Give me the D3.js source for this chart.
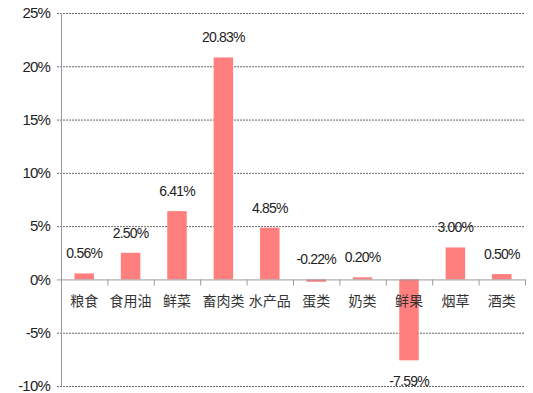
<!DOCTYPE html>
<html>
<head>
<meta charset="utf-8">
<script src="https://cdn.jsdelivr.net/npm/d3@7"></script>
<style>
  body { margin: 0; background: #fff; }
  svg text { fill: #222; }
</style>
</head>
<body>
<svg id="chart" width="533" height="393"></svg>
<script>
var categories = ["粮食", "食用油", "鲜菜", "畜肉类", "水产品", "蛋类", "奶类", "鲜果", "烟草", "酒类"];
var values = [0.56, 2.50, 6.41, 20.83, 4.85, -0.22, 0.20, -7.59, 3.00, 0.50];
var yTicks = [-10, -5, 0, 5, 10, 15, 20, 25];

var svg = d3.select("#chart");
var plotLeft = 61, plotRight = 525, plotTop = 13, plotBottom = 386;

var x = d3.scaleBand()
    .domain(categories)
    .range([plotLeft, plotRight])
    .paddingInner(0.58)
    .paddingOuter(0.29);

var xb = d3.scaleBand().domain(categories).range([plotLeft, plotRight]);

var y = d3.scaleLinear()
    .domain([-10, 25])
    .range([plotBottom, plotTop]);

// gridlines
svg.append("g")
    .selectAll("line")
    .data(yTicks.filter(d => d != 0))
  .enter().append("line")
    .attr("x1", plotLeft - 4)
    .attr("x2", plotRight)
    .attr("y1", d => y(d) + 0.5)
    .attr("y2", d => y(d) + 0.5)
    .attr("stroke", "#666")
    .attr("stroke-width", 1)
    .attr("stroke-dasharray", "2,1");

// y tick labels
svg.append("g")
    .selectAll("text")
    .data(yTicks)
  .enter().append("text")
    .attr("x", 50)
    .attr("y", d => y(d))
    .attr("dy", "0.35em")
    .attr("text-anchor", "end")
    .style("font", "15px 'Liberation Sans', Arial, sans-serif")
    .style("letter-spacing", "-0.8px")
    .text(d => d + "%");

// bars
svg.append("g")
    .selectAll("rect")
    .data(values)
  .enter().append("rect")
    .attr("x", (d, i) => x(categories[i]))
    .attr("width", x.bandwidth())
    .attr("y", d => y(Math.max(0, d)))
    .attr("height", d => Math.abs(y(d) - y(0)))
    .attr("fill", "#ff7f7f");

// y axis line
svg.append("line")
    .attr("x1", plotLeft + 0.5).attr("x2", plotLeft + 0.5)
    .attr("y1", plotTop).attr("y2", plotBottom)
    .attr("stroke", "#999");

// zero axis + ticks
svg.append("line")
    .attr("x1", plotLeft - 4).attr("x2", plotRight)
    .attr("y1", y(0) + 0.5).attr("y2", y(0) + 0.5)
    .attr("stroke", "#999");

svg.append("g")
    .selectAll("line")
    .data(categories.slice(1).concat([null]))
  .enter().append("line")
    .attr("x1", d => (d ? xb(d) : plotRight) + 0.5)
    .attr("x2", d => (d ? xb(d) : plotRight) + 0.5)
    .attr("y1", y(0))
    .attr("y2", y(0) + 6)
    .attr("stroke", "#999");

// category labels
svg.append("g")
    .selectAll("text")
    .data(categories)
  .enter().append("text")
    .attr("x", d => xb(d) + xb.bandwidth() / 2)
    .attr("y", y(0) + 22)
    .attr("dy", "0.35em")
    .attr("text-anchor", "middle")
    .style("font", "14px 'Noto Sans CJK SC', sans-serif")
    .style("fill", "#333")
    .text(d => d);

// value labels
svg.append("g")
    .selectAll("text")
    .data(values)
  .enter().append("text")
    .attr("x", (d, i) => xb(categories[i]) + xb.bandwidth() / 2)
    .attr("y", function(d) {
        // small negative labels were lifted above the axis
        if (d > -1) return y(Math.max(0, d)) - 20;
        return y(d) + 21;
    })
    .attr("dy", "0.35em")
    .attr("text-anchor", "middle")
    .style("font", "14px 'Liberation Sans', Arial, sans-serif")
    .style("letter-spacing", "-0.8px")
    .text(d => d.toFixed(2) + "%");
</script>
</body>
</html>
